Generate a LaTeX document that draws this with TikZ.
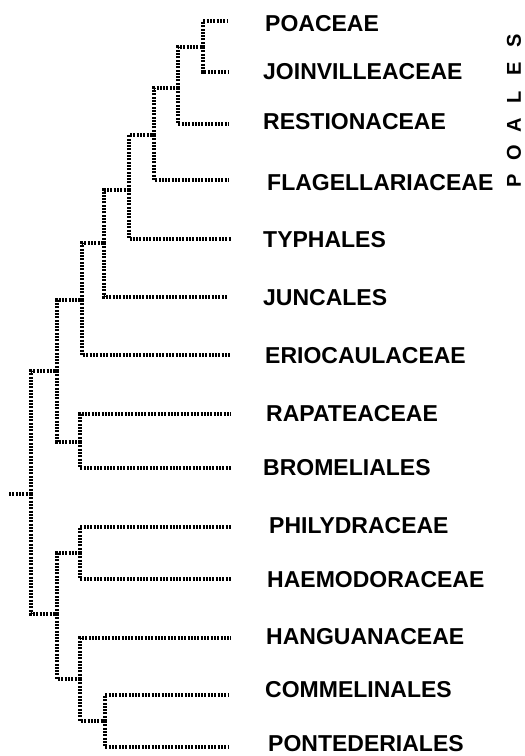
\documentclass[tikz,border=0pt]{standalone}
\usepackage{fontspec}
\setmainfont{Liberation Sans}
\usepackage{tikz}
\usetikzlibrary{positioning,calc}

\tikzset{
  branch/.style={black,line width=3.5pt,dash pattern=on 2pt off 1.3pt},
  taxon/.style={anchor=west,inner sep=0pt,font=\fontsize{23}{23}\selectfont\bfseries},
  order/.style={inner sep=0pt,rotate=90,font=\fontsize{20}{20}\selectfont\bfseries}
}

\begin{document}
\begin{tikzpicture}[x=1pt,y=-1pt]
\useasboundingbox (0,0) rectangle (525,756);

% leaf tips and their labels
\foreach \n/\tx/\lx/\y/\ly/\txt in {
    poa/228/265/21/24/POACEAE, joi/228/263/72/72/JOINVILLEACEAE,
    res/228/263/124/122/RESTIONACEAE, fla/228/267/180/183/FLAGELLARIACEAE,
    typ/231/263/239/240/TYPHALES, jun/227/263/297/298/JUNCALES,
    eri/231/265/355/356/ERIOCAULACEAE, rap/231/266/414/414/RAPATEACEAE,
    bro/231/263/468/468/BROMELIALES, phi/231/269/527/526/PHILYDRACEAE,
    hae/231/267/579/580/HAEMODORACEAE, han/231/266/638/637/HANGUANACEAE,
    com/229/265/695/690/COMMELINALES, pon/229/268/747/744/PONTEDERIALES} {
    \coordinate (\n) at (\tx,\y);
    \node[taxon] (\n-lab) at (\lx,\ly) {\txt};
}

% inner nodes
\coordinate (pj)   at (203,47);
\coordinate (pjr)  at (178,88);
\coordinate (pjrf) at (154,135);
\coordinate (ty)   at (129,190);
\coordinate (ju)   at (104,243);
\coordinate (er)   at (82,300);
\coordinate (rb)   at (80,442);
\coordinate (poal) at (57,371);
\coordinate (ph)   at (80,553);
\coordinate (cp)   at (105,721);
\coordinate (hcp)  at (80,679);
\coordinate (comm) at (57,614);
\coordinate (root) at (31,494);
\coordinate (stem) at (9,494);

\foreach \a/\b in {
    pj/poa, pj/joi, pjr/pj, pjr/res, pjrf/pjr, pjrf/fla,
    ty/pjrf, ty/typ, ju/ty, ju/jun, er/ju, er/eri,
    rb/rap, rb/bro, poal/er, poal/rb,
    ph/phi, ph/hae, cp/com, cp/pon, hcp/han, hcp/cp,
    comm/ph, comm/hcp, root/poal, root/comm} {
    \draw[branch] (\a) |- (\b);
}
\draw[branch] (stem) -- (root);

% order name
\foreach \i/\y/\l in {1/181/P, 2/153/O, 3/125/A, 4/97/L, 5/69/E, 6/41/S} {
    \node[order] (poales-\i) at (514,\y) {\l};
}
\end{tikzpicture}
\end{document}
